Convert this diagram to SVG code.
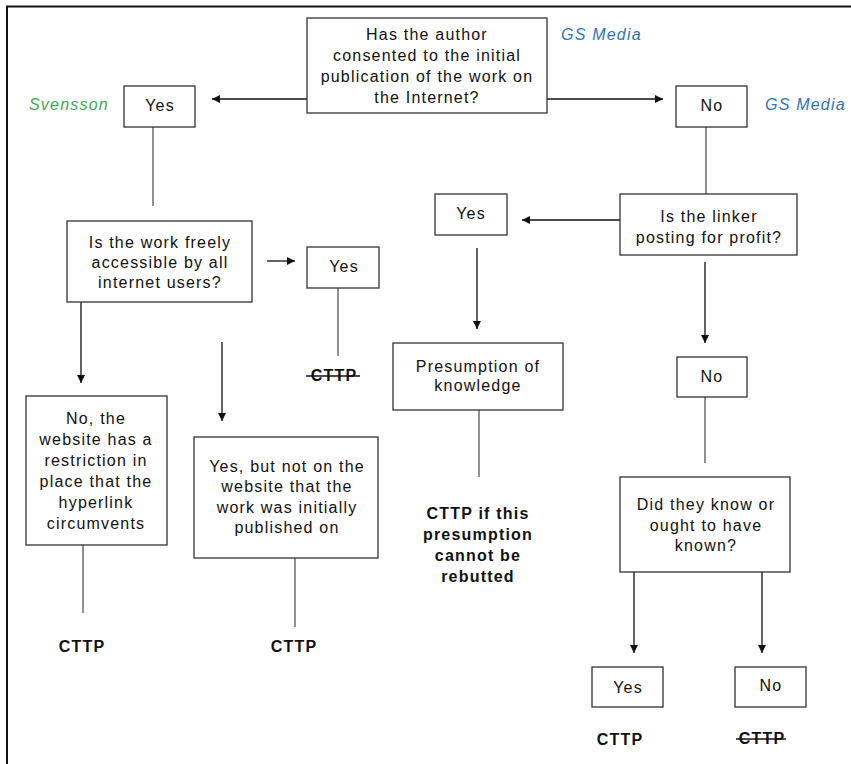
<svg xmlns="http://www.w3.org/2000/svg" width="851" height="764" viewBox="0 0 851 764">
<style>
.box{fill:#fff;stroke:#333;stroke-width:1.3}
.t{font-family:"Liberation Sans",Arial,sans-serif;font-size:16px;letter-spacing:1.2px;fill:#111;text-anchor:middle}
.b{font-weight:bold}
.i{font-style:italic;text-anchor:start}
.g{fill:#3aa857}
.bl{fill:#2f74b5}
.ln{stroke:#555;stroke-width:1.3;fill:none}
.ar{stroke:#111;stroke-width:1.3;fill:none;marker-end:url(#ah)}
.st{stroke:#111;stroke-width:1.3}
</style>
<defs>
<marker id="ah" viewBox="0 0 10 10" refX="10" refY="5" markerWidth="8" markerHeight="8" markerUnits="userSpaceOnUse" orient="auto">
<path d="M0,0 L10,5 L0,10 z" fill="#111"/>
</marker>
</defs>
<rect width="851" height="764" fill="#fff"/>
<polyline points="7,764 7,6.5 851,6.5" fill="none" stroke="#111" stroke-width="2"/>

<g id="connectors">
<line class="ar" x1="307" y1="99" x2="212" y2="99"/>
<line class="ar" x1="547" y1="99" x2="663" y2="99"/>
<line class="ln" x1="153" y1="127" x2="153" y2="206"/>
<line class="ar" x1="267" y1="261" x2="295" y2="261"/>
<line class="ln" x1="338" y1="288" x2="338" y2="356"/>
<line class="ar" x1="81" y1="302" x2="81" y2="383"/>
<line class="ln" x1="83" y1="545" x2="83" y2="613"/>
<line class="ar" x1="222" y1="342" x2="222" y2="421"/>
<line class="ln" x1="295" y1="558" x2="295" y2="627"/>
<line class="ln" x1="706" y1="127" x2="706" y2="194"/>
<line class="ar" x1="620" y1="220" x2="522" y2="220"/>
<line class="ar" x1="477" y1="248" x2="477" y2="329"/>
<line class="ln" x1="479" y1="410" x2="479" y2="477"/>
<line class="ar" x1="705" y1="262" x2="705" y2="343"/>
<line class="ln" x1="705" y1="397" x2="705" y2="463"/>
<line class="ar" x1="634" y1="572" x2="634" y2="653"/>
<line class="ar" x1="762" y1="572" x2="762" y2="653"/>
</g>

<g id="q1">
<rect class="box" x="307" y="18" width="240" height="95"/>
<text class="t" x="427" y="40">Has the author</text>
<text class="t" x="427" y="61">consented to the initial</text>
<text class="t" x="427" y="82">publication of the work on</text>
<text class="t" x="427" y="103">the Internet?</text>
</g>
<g id="lbl-gs1"><text class="t i bl" x="561" y="40">GS Media</text></g>
<g id="lbl-sv"><text class="t i g" x="29" y="110">Svensson</text></g>
<g id="lbl-gs2"><text class="t i bl" x="765" y="110">GS Media</text></g>

<g id="yes1">
<rect class="box" x="124" y="86" width="71" height="41"/>
<text class="t" x="160" y="111">Yes</text>
</g>
<g id="no1">
<rect class="box" x="676" y="86" width="71" height="41"/>
<text class="t" x="712" y="111">No</text>
</g>

<g id="q2">
<rect class="box" x="67" y="221" width="185" height="81"/>
<text class="t" x="160" y="248">Is the work freely</text>
<text class="t" x="160" y="268">accessible by all</text>
<text class="t" x="160" y="288">internet users?</text>
</g>
<g id="yes2">
<rect class="box" x="307" y="247" width="72" height="41"/>
<text class="t" x="344" y="272">Yes</text>
</g>
<g id="cttp-strike1">
<text class="t b" x="334" y="381">CTTP</text>
<line class="st" x1="306" y1="376" x2="360" y2="376"/>
</g>

<g id="no2">
<rect class="box" x="26" y="396" width="141" height="149"/>
<text class="t" x="96" y="424">No, the</text>
<text class="t" x="96" y="445">website has a</text>
<text class="t" x="96" y="466">restriction in</text>
<text class="t" x="96" y="487">place that the</text>
<text class="t" x="96" y="508">hyperlink</text>
<text class="t" x="96" y="529">circumvents</text>
</g>
<g id="cttp1"><text class="t b" x="82" y="652">CTTP</text></g>

<g id="yesbut">
<rect class="box" x="194" y="437" width="184" height="121"/>
<text class="t" x="287" y="472">Yes, but not on the</text>
<text class="t" x="287" y="492">website that the</text>
<text class="t" x="287" y="513">work was initially</text>
<text class="t" x="287" y="533">published on</text>
</g>
<g id="cttp2"><text class="t b" x="294" y="652">CTTP</text></g>

<g id="q3">
<rect class="box" x="620" y="194" width="177" height="61"/>
<text class="t" x="709" y="222">Is the linker</text>
<text class="t" x="709" y="243">posting for profit?</text>
</g>
<g id="yes3">
<rect class="box" x="435" y="194" width="72" height="41"/>
<text class="t" x="471" y="219">Yes</text>
</g>
<g id="presumption">
<rect class="box" x="393" y="343" width="170" height="67"/>
<text class="t" x="478" y="372">Presumption of</text>
<text class="t" x="478" y="391">knowledge</text>
</g>
<g id="cttp3">
<text class="t b" x="478" y="519">CTTP if this</text>
<text class="t b" x="478" y="540">presumption</text>
<text class="t b" x="478" y="561">cannot be</text>
<text class="t b" x="478" y="582">rebutted</text>
</g>
<g id="no3">
<rect class="box" x="677" y="357" width="70" height="40"/>
<text class="t" x="712" y="382">No</text>
</g>
<g id="q4">
<rect class="box" x="620" y="477" width="170" height="95"/>
<text class="t" x="706" y="510">Did they know or</text>
<text class="t" x="706" y="531">ought to have</text>
<text class="t" x="706" y="551">known?</text>
</g>
<g id="yes4">
<rect class="box" x="592" y="667" width="71" height="40"/>
<text class="t" x="628" y="693">Yes</text>
</g>
<g id="no4">
<rect class="box" x="735" y="667" width="71" height="40"/>
<text class="t" x="771" y="691">No</text>
</g>
<g id="cttp4"><text class="t b" x="620" y="745">CTTP</text></g>
<g id="cttp-strike2">
<text class="t b" x="762" y="744">CTTP</text>
<line class="st" x1="736" y1="739" x2="786" y2="739"/>
</g>
</svg>
